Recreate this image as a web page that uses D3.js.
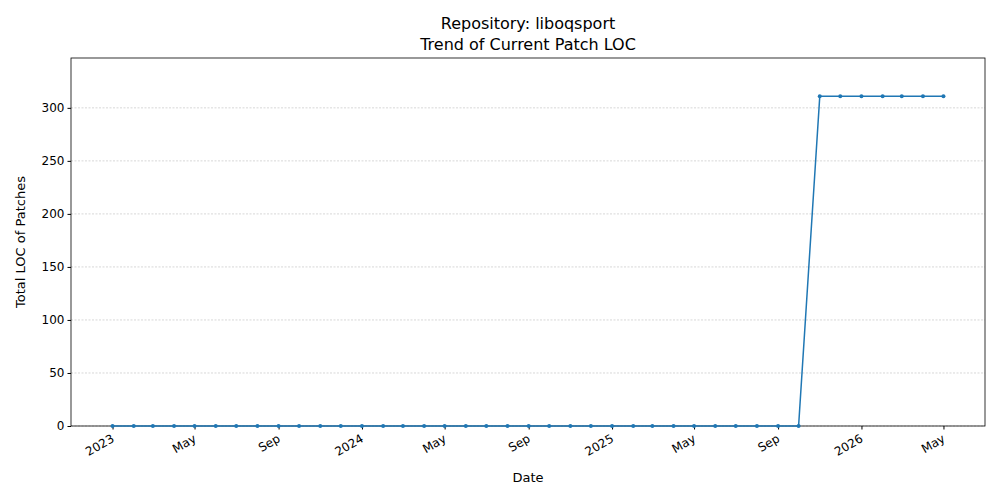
<!DOCTYPE html><html><head><script src="https://d3js.org/d3.v7.min.js"></script>
<style>body{margin:0;background:#fff}text{font-family:"DejaVu Sans",sans-serif}</style></head><body><svg width="1000" height="500"></svg><script>
const months=[];for(let y=2023;y<=2026;y++)for(let m=0;m<12;m++){if(y===2026&&m>4)break;months.push(new Date(y,m,1));}
const values=months.map(d=>0);
const lateValues=[0,311,311,311,311,311,311,311];// Oct 2025..May 2026
for(let i=0;i<lateValues.length;i++)values[values.length-8+i]=lateValues[i];
const tickDates=[[2023,0,"2023"],[2023,4,"May"],[2023,8,"Sep"],[2024,0,"2024"],[2024,4,"May"],[2024,8,"Sep"],[2025,0,"2025"],[2025,4,"May"],[2025,8,"Sep"],[2026,0,"2026"],[2026,4,"May"]];
const yTicks=[0,50,100,150,200,250,300];
const svg=d3.select("svg");
const L=71,R=985,T=58,B=426;
const d0=months[0],d1=months[months.length-1],pad=(d1-d0)*0.05;
const x=d3.scaleTime().domain([new Date(+d0-pad),new Date(+d1+pad)]).range([L,R]);
const y=d3.scaleLinear().domain([0,347]).range([B,T]);
svg.append("g").selectAll("line").data(yTicks).join("line").attr("x1",L).attr("x2",R).attr("y1",d=>y(d)).attr("y2",d=>y(d)).attr("stroke","#b0b0b0").attr("stroke-width",0.5).attr("stroke-dasharray","2,1.5");
const xa=svg.append("g").attr("transform",`translate(0,${B})`).call(d3.axisBottom(x).tickValues(tickDates.map(t=>new Date(t[0],t[1],1))).tickFormat((d,i)=>tickDates[i][2]).tickSize(3.5));
xa.selectAll("text").attr("font-size",12).attr("fill","#000").attr("text-anchor","end").attr("x",0).attr("y",0).attr("dx","0").attr("dy","0").attr("transform","translate(2,15) rotate(-30)");
const ya=svg.append("g").attr("transform",`translate(${L},0)`).call(d3.axisLeft(y).tickValues(yTicks).tickSize(3.5));
ya.selectAll("text").attr("font-size",12).attr("fill","#000");
svg.selectAll(".domain").remove();
svg.append("rect").attr("x",L).attr("y",T).attr("width",R-L).attr("height",B-T).attr("fill","none").attr("stroke","#000").attr("stroke-width",0.8);
const line=d3.line().x((d,i)=>x(months[i])).y(d=>y(d));
svg.append("path").datum(values).attr("d",line).attr("fill","none").attr("stroke","#1f77b4").attr("stroke-width",1.5);
svg.append("g").selectAll("circle").data(values).join("circle").attr("cx",(d,i)=>x(months[i])).attr("cy",d=>y(d)).attr("r",2).attr("fill","#1f77b4");
svg.append("text").attr("x",528).attr("y",29).attr("text-anchor","middle").attr("font-size",16).text("Repository: liboqsport");
svg.append("text").attr("x",528).attr("y",50).attr("text-anchor","middle").attr("font-size",16).text("Trend of Current Patch LOC");
svg.append("text").attr("x",528).attr("y",482).attr("text-anchor","middle").attr("font-size",13).text("Date");
svg.append("text").attr("transform","translate(25,242) rotate(-90)").attr("text-anchor","middle").attr("font-size",13).text("Total LOC of Patches");
</script></body></html>
